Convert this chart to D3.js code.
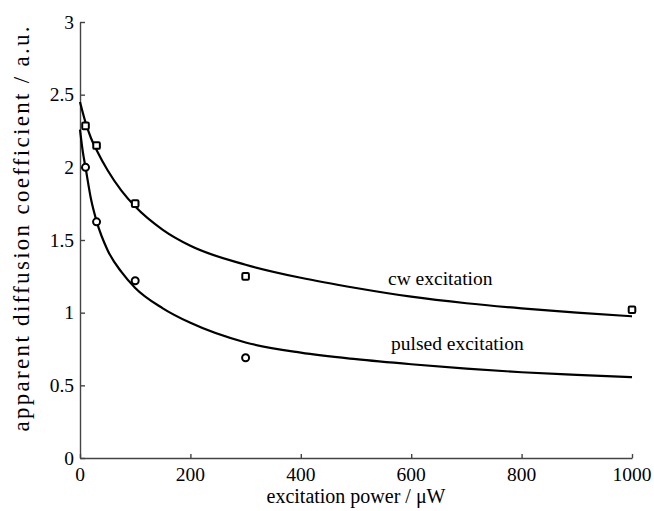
<!DOCTYPE html>
<html>
<head>
<meta charset="utf-8">
<script src="https://cdn.jsdelivr.net/npm/d3@7"></script>
<style>
  body { margin: 0; background: #fff; }
  text { font-family: "Liberation Serif", "DejaVu Serif", serif; fill: #000; }
</style>
</head>
<body>
<div id="chart"></div>
<script>
// measured points
var cwX = [10, 30, 100, 300, 1000];
var cwY = [2.285, 2.15, 1.75, 1.25, 1.02];
var pulsedX = [10, 30, 100, 300];
var pulsedY = [2.0, 1.625, 1.22, 0.69];

// fitted curves
var cwFitX = [0, 10, 20, 30, 50, 75, 100, 150, 200, 300, 400, 500, 600, 700, 800, 900, 1000];
var cwFitY = [2.45, 2.31, 2.2, 2.12, 1.98, 1.84, 1.73, 1.57, 1.46, 1.33, 1.24, 1.17, 1.11, 1.065, 1.03, 1.0, 0.975];
var pulsedFitX = [0, 5, 10, 20, 30, 50, 75, 100, 150, 200, 300, 400, 500, 600, 700, 800, 900, 1000];
var pulsedFitY = [2.26, 2.11, 2.0, 1.78, 1.63, 1.43, 1.28, 1.17, 1.03, 0.93, 0.795, 0.725, 0.68, 0.645, 0.615, 0.59, 0.572, 0.556];

var xTicks = [0, 200, 400, 600, 800, 1000];
var yTicks = [0, 0.5, 1, 1.5, 2, 2.5, 3];

var svg = d3.select("#chart").append("svg").attr("width", 654).attr("height", 511);

var x = d3.scaleLinear().domain([0, 1000]).range([80, 632]);
var y = d3.scaleLinear().domain([0, 3]).range([458, 22]);

// axes: left + bottom only, ticks pointing inward
var axisColor = "#444";
var xAxisG = svg.append("g").attr("transform", "translate(0,458)");
xAxisG.call(d3.axisTop(x).tickValues(xTicks).tickSize(4).tickSizeOuter(0).tickFormat(""));
xAxisG.selectAll("path, line").attr("stroke", axisColor).attr("stroke-width", 1.4);

var yAxisG = svg.append("g").attr("transform", "translate(80,0)");
yAxisG.call(d3.axisRight(y).tickValues(yTicks).tickSize(5).tickSizeOuter(0).tickFormat(""));
yAxisG.selectAll("path, line").attr("stroke", axisColor).attr("stroke-width", 1.4);

// tick labels
svg.selectAll(".xl").data(xTicks).enter().append("text")
  .attr("x", d => x(d)).attr("y", 481)
  .attr("text-anchor", "middle").style("font-size", "19.5px")
  .text(d => d);

svg.selectAll(".yl").data(yTicks).enter().append("text")
  .attr("x", 74).attr("y", d => y(d) + 6.5)
  .attr("text-anchor", "end").style("font-size", "19.5px")
  .text(d => d);

// axis titles
svg.append("text").attr("x", 356).attr("y", 503)
  .attr("text-anchor", "middle").style("font-size", "20px")
  .attr("textLength", 179).attr("lengthAdjust", "spacing")
  .text("excitation power / \u03bcW");

svg.append("text").attr("transform", "translate(29,229) rotate(-90)")
  .attr("text-anchor", "middle").style("font-size", "23px")
  .attr("textLength", 405).attr("lengthAdjust", "spacing")
  .text("apparent diffusion coefficient / a.u.");

// fit lines
var line = d3.line().x(d => x(d[0])).y(d => y(d[1])).curve(d3.curveMonotoneX);
svg.append("path").attr("d", line(d3.zip(cwFitX, cwFitY)))
  .attr("fill", "none").attr("stroke", "#000").attr("stroke-width", 2.2);
svg.append("path").attr("d", line(d3.zip(pulsedFitX, pulsedFitY)))
  .attr("fill", "none").attr("stroke", "#000").attr("stroke-width", 2.2);

// markers
svg.selectAll(".sq").data(d3.zip(cwX, cwY)).enter().append("rect")
  .attr("x", d => x(d[0]) - 3.3).attr("y", d => y(d[1]) - 3.3)
  .attr("width", 6.6).attr("height", 6.6).attr("rx", 1.2)
  .attr("fill", "#fff").attr("stroke", "#000").attr("stroke-width", 2);

svg.selectAll(".ci").data(d3.zip(pulsedX, pulsedY)).enter().append("circle")
  .attr("cx", d => x(d[0])).attr("cy", d => y(d[1])).attr("r", 3.5)
  .attr("fill", "#fff").attr("stroke", "#000").attr("stroke-width", 2);

// curve labels
svg.append("text").attr("x", 388).attr("y", 285).style("font-size", "19.5px").text("cw excitation");
svg.append("text").attr("x", 391).attr("y", 350).style("font-size", "19.5px").text("pulsed excitation");
</script>
</body>
</html>
